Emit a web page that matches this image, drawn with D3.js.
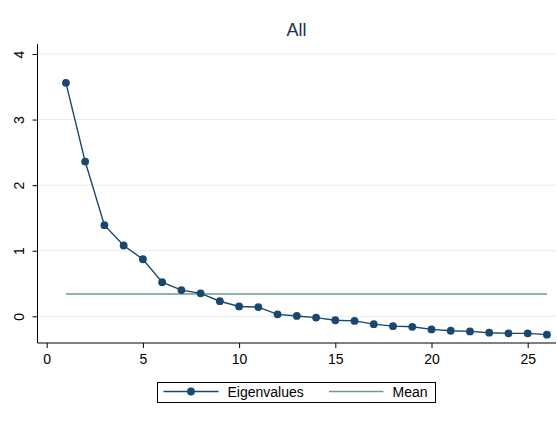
<!DOCTYPE html>
<html>
<head>
<meta charset="utf-8">
<script src="https://cdn.jsdelivr.net/npm/d3@7/dist/d3.min.js"></script>
<style>
  html, body { margin: 0; padding: 0; background: #fff; }
  svg { display: block; font-family: Arial, "Liberation Sans", sans-serif; }
</style>
</head>
<body>
<svg id="chart" width="557" height="421"></svg>
<script>
// Scree plot data
const components = d3.range(1, 27);
const eigenvalues = [3.56, 2.36, 1.39, 1.08, 0.87, 0.52, 0.40, 0.35, 0.23, 0.15,
                     0.14, 0.03, 0.005, -0.02, -0.06, -0.07, -0.12, -0.15, -0.16, -0.20,
                     -0.22, -0.23, -0.25, -0.26, -0.26, -0.28];
const meanValue = 0.34;
const xTicks = [0, 5, 10, 15, 20, 25];
const yTicks = [0, 1, 2, 3, 4];
const seriesNames = ["Eigenvalues", "Mean"];

const navy = "#1a476f";
const teal = "#6d9a8f";
const fontSize = 14;

const svg = d3.select("#chart");

// plot region
const plot = { left: 37.5, right: 556, top: 44, bottom: 343 };

const x = d3.scaleLinear().domain([0, 25]).range([46.7, 527.7]);
const y = d3.scaleLinear().domain([0, 4]).range([316.3, 54]);

// horizontal gridlines
svg.append("g").selectAll("line").data(yTicks).join("line")
  .attr("x1", plot.left).attr("x2", plot.right)
  .attr("y1", d => y(d)).attr("y2", d => y(d))
  .attr("stroke", "#e6edf0").attr("stroke-width", 1);

// y axis
const yAxis = svg.append("g")
  .attr("transform", `translate(${plot.left},0)`)
  .call(d3.axisLeft(y).tickValues(yTicks).tickSize(5).tickPadding(10).tickFormat(d3.format("d")));
yAxis.select(".domain").remove();
yAxis.append("line").attr("y1", plot.top).attr("y2", plot.bottom)
  .attr("stroke", "#000").attr("stroke-width", 1);
yAxis.selectAll(".tick line").attr("stroke", "#000");
yAxis.selectAll(".tick text")
  .attr("font-size", fontSize).attr("fill", "#000")
  .attr("text-anchor", "middle")
  .attr("transform", "translate(-18.5,0) rotate(-90)")
  .attr("x", 0).attr("dy", "0.35em");

// x axis
const xAxis = svg.append("g")
  .attr("transform", `translate(0,${plot.bottom})`)
  .call(d3.axisBottom(x).tickValues(xTicks).tickSize(5).tickPadding(6).tickFormat(d3.format("d")));
xAxis.select(".domain").remove();
xAxis.append("line").attr("x1", plot.left).attr("x2", plot.right)
  .attr("stroke", "#000").attr("stroke-width", 1);
xAxis.selectAll(".tick line").attr("stroke", "#000");
xAxis.selectAll(".tick text").attr("font-size", fontSize).attr("fill", "#000");

// mean line
svg.append("line")
  .attr("x1", x(components[0])).attr("x2", x(components[components.length - 1]))
  .attr("y1", y(meanValue)).attr("y2", y(meanValue))
  .attr("stroke", teal).attr("stroke-width", 1.6);

// eigenvalue line and markers
const pts = components.map((c, i) => [c, eigenvalues[i]]);
svg.append("path")
  .datum(pts)
  .attr("fill", "none").attr("stroke", navy).attr("stroke-width", 1.4)
  .attr("d", d3.line().x(d => x(d[0])).y(d => y(d[1])));
svg.append("g").selectAll("circle").data(pts).join("circle")
  .attr("cx", d => x(d[0])).attr("cy", d => y(d[1])).attr("r", 3.9)
  .attr("fill", navy);

// title
svg.append("text")
  .attr("x", 296.5).attr("y", 36).attr("text-anchor", "middle")
  .attr("font-size", 18).attr("fill", "#1e2d52").text("All");

// legend
const lg = svg.append("g");
lg.append("rect").attr("x", 157.5).attr("y", 382.5).attr("width", 278).attr("height", 20)
  .attr("fill", "#fff").attr("stroke", "#000").attr("stroke-width", 1);
lg.append("line").attr("x1", 163.5).attr("x2", 218.5).attr("y1", 391.5).attr("y2", 391.5)
  .attr("stroke", navy).attr("stroke-width", 1.4);
lg.append("circle").attr("cx", 191).attr("cy", 391.5).attr("r", 3.9).attr("fill", navy);
lg.append("text").attr("x", 227.5).attr("y", 396.5).attr("font-size", fontSize)
  .attr("fill", "#000").text(seriesNames[0]);
lg.append("line").attr("x1", 329).attr("x2", 383.5).attr("y1", 391.5).attr("y2", 391.5)
  .attr("stroke", teal).attr("stroke-width", 1.6);
lg.append("text").attr("x", 392.5).attr("y", 396.5).attr("font-size", fontSize)
  .attr("fill", "#000").text(seriesNames[1]);
</script>
</body>
</html>
